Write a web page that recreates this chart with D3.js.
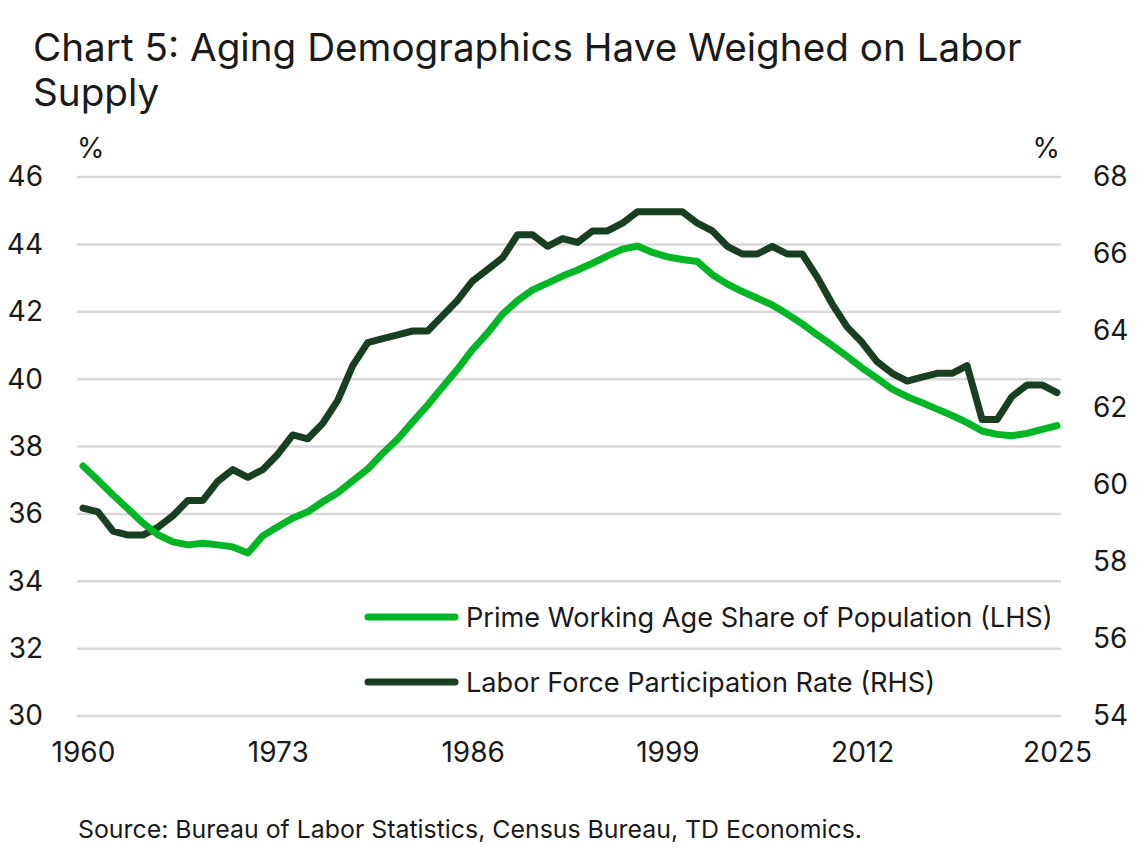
<!DOCTYPE html>
<html>
<head>
<meta charset="utf-8">
<script src="https://cdn.jsdelivr.net/npm/d3@7"></script>
<style>
  body { margin: 0; background: #fff; }
  text { font-family: Inter, Roboto, sans-serif; fill: #1a1a1a; }
</style>
</head>
<body>
<div class="chart"></div>
<script>
// data, one value per year 1960..2025
const years = d3.range(1960, 2026)
const primeShare = [
  37.42, 37.0, 36.56, 36.15, 35.73, 35.38, 35.17, 35.08, 35.13, 35.08,
  35.02, 34.84, 35.35, 35.62, 35.88, 36.06, 36.36, 36.63, 36.98, 37.33,
  37.8, 38.22, 38.73, 39.23, 39.77, 40.3, 40.88, 41.37, 41.93, 42.33,
  42.65, 42.85, 43.06, 43.24, 43.44, 43.66, 43.86, 43.95, 43.76, 43.63,
  43.55, 43.49, 43.1, 42.82, 42.6, 42.4, 42.2, 41.93, 41.64, 41.31,
  41.0, 40.67, 40.33, 40.02, 39.7, 39.48, 39.3, 39.11, 38.92, 38.71,
  38.46, 38.36, 38.32, 38.39, 38.51, 38.62
]
const lfpr = [
  59.4, 59.3, 58.8, 58.7, 58.7, 58.9, 59.2, 59.6, 59.6, 60.1,
  60.4, 60.2, 60.4, 60.8, 61.3, 61.2, 61.6, 62.2, 63.1, 63.7,
  63.8, 63.9, 64.0, 64.0, 64.4, 64.8, 65.3, 65.6, 65.9, 66.5,
  66.5, 66.2, 66.4, 66.3, 66.6, 66.6, 66.8, 67.1, 67.1, 67.1,
  67.1, 66.8, 66.6, 66.2, 66.0, 66.0, 66.2, 66.0, 66.0, 65.4,
  64.7, 64.1, 63.7, 63.2, 62.9, 62.7, 62.8, 62.9, 62.9, 63.1,
  61.7, 61.7, 62.3, 62.6, 62.6, 62.4
]
const xTicks = [1960, 1973, 1986, 1999, 2012, 2025]
const leftTicks = [30, 32, 34, 36, 38, 40, 42, 44, 46]
const rightTicks = [54, 56, 58, 60, 62, 64, 66, 68]
const seriesNames = [
  'Prime Working Age Share of Population (LHS)',
  'Labor Force Participation Rate (RHS)'
]
const colors = ['#00b624', '#193f22']

const width = 1137, height = 848
const margin = {top: 177, right: 1137 - 1061, bottom: 848 - 716, left: 77}

let svg = d3.select('.chart')
  .append('svg')
  .attr('width', width)
  .attr('height', height)

let x = d3.scaleLinear()
  .domain([1960, 2025])
  .range([83, 1057])

let yLeft = d3.scaleLinear()
  .domain([30, 46])
  .range([716, 177])

let yRight = d3.scaleLinear()
  .domain([54, 68])
  .range([716, 177])

// scale a text's font so it spans the same width as in the picture
function fitWidth(sel, w) {
  let size = parseFloat(sel.style('font-size'))
  let len = sel.node().getComputedTextLength()
  sel.style('font-size', (size * w / len) + 'px')
}

// gridlines
svg.append('g')
  .selectAll('line')
  .data(leftTicks)
  .enter()
  .append('line')
  .attr('x1', margin.left)
  .attr('x2', width - margin.right)
  .attr('y1', d => yLeft(d))
  .attr('y2', d => yLeft(d))
  .style('stroke', '#d9d9d9')
  .style('stroke-width', 2.5)

function styleAxis(g) {
  g.select('.domain').remove()
  g.selectAll('text')
    .style('font-size', '28px')
    .style('font-family', 'Inter, Roboto, sans-serif')
    .attr('fill', '#1a1a1a')
}

// left axis
svg.append('g')
  .attr('transform', 'translate(43,0)')
  .call(d3.axisLeft(yLeft).tickValues(leftTicks).tickSize(0).tickPadding(0))
  .call(styleAxis)

// right axis
svg.append('g')
  .attr('transform', 'translate(1093,0)')
  .call(d3.axisRight(yRight).tickValues(rightTicks).tickSize(0).tickPadding(0))
  .call(styleAxis)

// bottom axis
svg.append('g')
  .attr('transform', 'translate(0,742)')
  .call(d3.axisBottom(x).tickValues(xTicks).tickFormat(d3.format('d')).tickSize(0).tickPadding(0))
  .call(styleAxis)

// unit labels
svg.append('text')
  .attr('x', 77).attr('y', 158)
  .style('font-size', '28px')
  .text('%')
svg.append('text')
  .attr('x', 1060).attr('y', 158)
  .attr('text-anchor', 'end')
  .style('font-size', '28px')
  .text('%')

// lines
let lineL = d3.line()
  .x((d, i) => x(years[i]))
  .y(d => yLeft(d))
let lineR = d3.line()
  .x((d, i) => x(years[i]))
  .y(d => yRight(d))

svg.append('path')
  .datum(lfpr)
  .attr('d', lineR)
  .attr('fill', 'none')
  .attr('stroke', colors[1])
  .attr('stroke-width', 7)
  .attr('stroke-linejoin', 'round')
  .attr('stroke-linecap', 'round')

svg.append('path')
  .datum(primeShare)
  .attr('d', lineL)
  .attr('fill', 'none')
  .attr('stroke', colors[0])
  .attr('stroke-width', 7)
  .attr('stroke-linejoin', 'round')
  .attr('stroke-linecap', 'round')

// legend
let legend = svg.append('g')
  .selectAll('g')
  .data(seriesNames)
  .enter()
  .append('g')
  .attr('transform', (d, i) => 'translate(0,' + (617 + i * 65) + ')')
legend.append('line')
  .attr('x1', 368).attr('x2', 455)
  .attr('stroke', (d, i) => colors[i])
  .attr('stroke-width', 7)
  .attr('stroke-linecap', 'round')
let legendText = legend.append('text')
  .attr('x', 466).attr('y', 10)
  .style('font-size', '24px')
  .text(d => d)
fitWidth(d3.select(legendText.nodes()[0]), 587)
legendText.style('font-size', d3.select(legendText.nodes()[0]).style('font-size'))

// title and source
let title1 = svg.append('text')
  .attr('x', 33).attr('y', 61)
  .style('font-size', '35px')
  .text('Chart 5: Aging Demographics Have Weighed on Labor')
fitWidth(title1, 989)
svg.append('text')
  .attr('x', 33).attr('y', 106)
  .style('font-size', title1.style('font-size'))
  .text('Supply')
let source = svg.append('text')
  .attr('x', 78).attr('y', 838)
  .style('font-size', '22px')
  .text('Source: Bureau of Labor Statistics, Census Bureau, TD Economics.')
fitWidth(source, 784)
</script>
</body>
</html>
